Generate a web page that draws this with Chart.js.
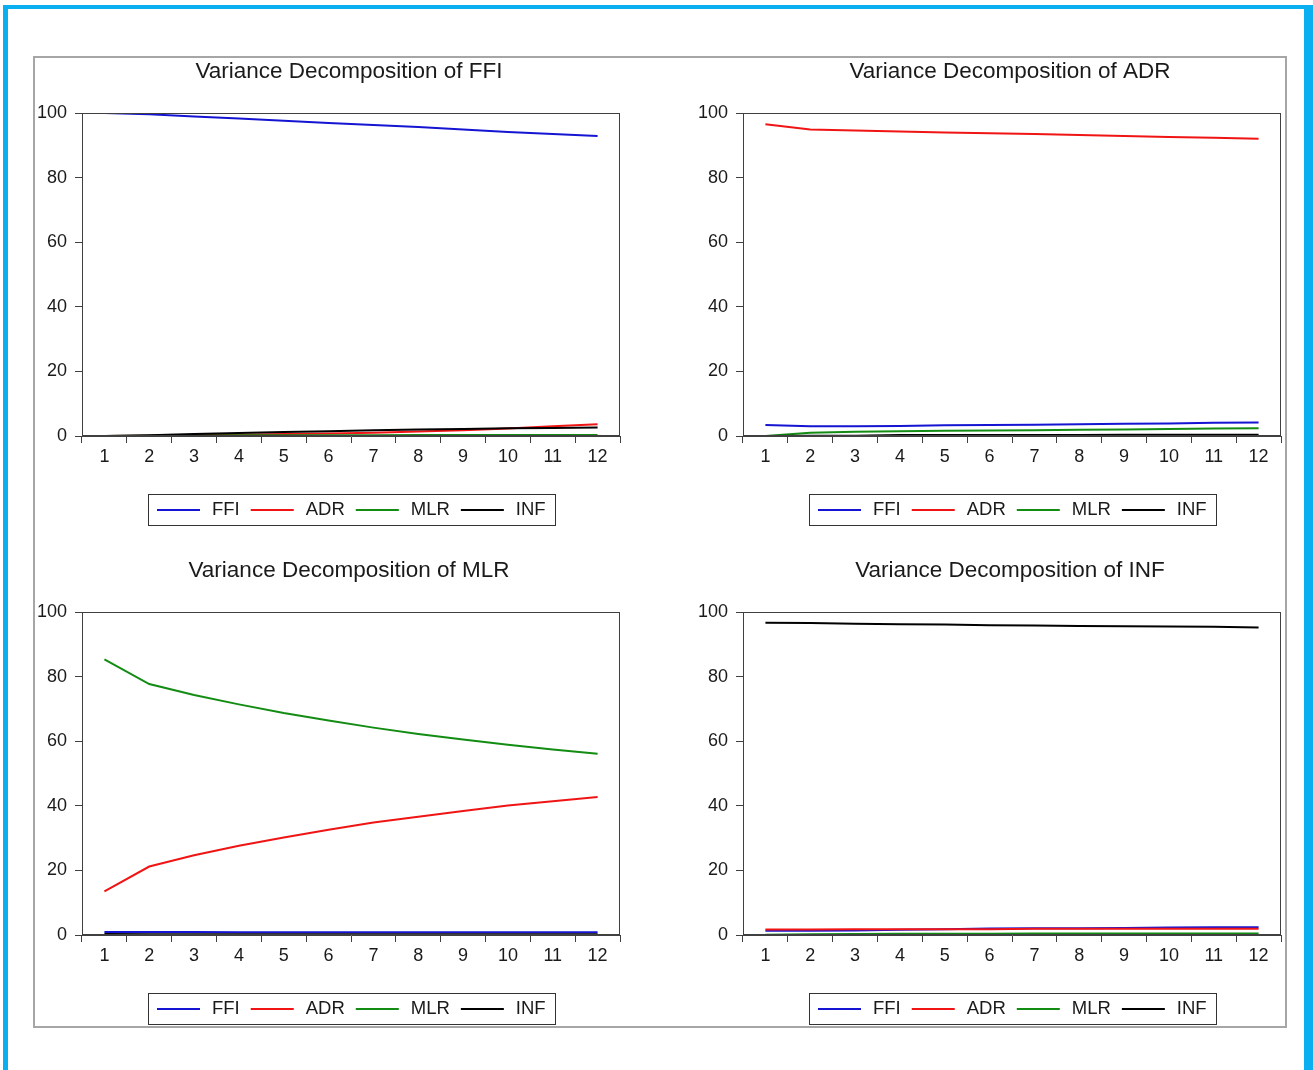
<!DOCTYPE html>
<html><head><meta charset="utf-8">
<script src="https://cdn.jsdelivr.net/npm/chart.js@4/dist/chart.umd.min.js"></script>
<style>
html,body{margin:0;padding:0;background:#fff;width:1313px;height:1070px;overflow:hidden;position:relative;}
#blue{position:absolute;left:3px;top:5px;width:1310px;height:1100px;box-sizing:border-box;border-top:4px solid #0aaff0;border-left:5px solid #0aaff0;border-right:9px solid #0aaff0;}
#frame{position:absolute;left:33px;top:56px;width:1254px;height:972px;box-sizing:border-box;border:2px solid #a6a6a6;}
canvas{position:absolute;}
</style></head><body>
<div id="blue"></div><div id="frame"></div>
<canvas id="c1" width="604" height="480" style="left:36px;top:58px"></canvas>
<canvas id="c2" width="604" height="480" style="left:697px;top:58px"></canvas>
<canvas id="c3" width="604" height="480" style="left:36px;top:557px"></canvas>
<canvas id="c4" width="604" height="480" style="left:697px;top:557px"></canvas>
<script>
// ---- data ----
const periods = ['1','2','3','4','5','6','7','8','9','10','11','12'];
const seriesNames = ['FFI','ADR','MLR','INF'];
const yTicks = [0,20,40,60,80,100];
const titles = ['Variance Decomposition of FFI','Variance Decomposition of ADR','Variance Decomposition of MLR','Variance Decomposition of INF'];

// Variance Decomposition of FFI
const vdFFI_FFI = [100, 99.6, 98.9, 98.3, 97.6, 96.9, 96.3, 95.7, 94.9, 94.1, 93.5, 92.9];
const vdFFI_ADR = [0, 0.1, 0.3, 0.4, 0.6, 0.8, 1.0, 1.4, 1.8, 2.3, 3.0, 3.6];
const vdFFI_MLR = [0, 0.05, 0.15, 0.2, 0.2, 0.25, 0.25, 0.3, 0.3, 0.3, 0.3, 0.3];
const vdFFI_INF = [0, 0.2, 0.6, 0.9, 1.2, 1.5, 1.8, 2.0, 2.2, 2.4, 2.5, 2.6];

// Variance Decomposition of ADR
const vdADR_FFI = [3.4, 3.0, 3.0, 3.1, 3.3, 3.4, 3.5, 3.6, 3.8, 3.9, 4.1, 4.2];
const vdADR_ADR = [96.5, 94.9, 94.6, 94.3, 94.0, 93.7, 93.5, 93.2, 92.9, 92.6, 92.3, 92.0];
const vdADR_MLR = [0, 1.0, 1.3, 1.5, 1.6, 1.7, 1.8, 1.9, 2.0, 2.2, 2.3, 2.4];
const vdADR_INF = [0, 0.05, 0.1, 0.3, 0.3, 0.3, 0.3, 0.3, 0.35, 0.35, 0.4, 0.4];

// Variance Decomposition of MLR
const vdMLR_FFI = [0.9, 0.9, 0.9, 0.85, 0.85, 0.85, 0.85, 0.85, 0.85, 0.85, 0.85, 0.85];
const vdMLR_ADR = [13.5, 21.2, 24.7, 27.6, 30.2, 32.6, 34.8, 36.6, 38.4, 40.1, 41.4, 42.7];
const vdMLR_MLR = [85.3, 77.7, 74.3, 71.4, 68.7, 66.4, 64.2, 62.2, 60.5, 58.9, 57.4, 56.1];
const vdMLR_INF = [0.3, 0.2, 0.2, 0.2, 0.2, 0.2, 0.2, 0.2, 0.2, 0.2, 0.2, 0.2];

// Variance Decomposition of INF
const vdINF_FFI = [1.3, 1.3, 1.4, 1.6, 1.8, 2.0, 2.1, 2.1, 2.2, 2.3, 2.4, 2.4];
const vdINF_ADR = [1.7, 1.7, 1.8, 1.8, 1.8, 1.8, 1.9, 1.9, 1.9, 1.9, 1.9, 1.9];
const vdINF_MLR = [0.1, 0.2, 0.3, 0.4, 0.4, 0.4, 0.45, 0.45, 0.5, 0.5, 0.5, 0.5];
const vdINF_INF = [96.7, 96.6, 96.4, 96.2, 96.1, 95.9, 95.8, 95.7, 95.6, 95.5, 95.4, 95.2];

// ---- styling ----
const COLORS = ['#1414d2', '#f01414', '#128c12', '#000000'];
const AXIS = '#404040';
const TEXT = '#1a1a1a';
const FONT = '"Liberation Sans", Arial, sans-serif';

const framePlugin = {
  id: 'frameTitleLegend',
  afterDraw(chart, args, opts) {
    const ctx = chart.ctx, a = chart.chartArea;
    ctx.save();
    // plot box
    ctx.strokeStyle = AXIS; ctx.lineWidth = 1;
    ctx.strokeRect(Math.round(a.left) + 0.5, Math.round(a.top) + 0.5,
                   Math.round(a.right - a.left) - 1, Math.round(a.bottom - a.top) - 1);
    // title
    ctx.fillStyle = TEXT;
    ctx.font = '22.5px ' + FONT;
    ctx.textAlign = 'center'; ctx.textBaseline = 'middle';
    ctx.fillText(opts.title, (a.left + a.right) / 2 - 2, a.top - 41);
    // legend
    ctx.font = '18.5px ' + FONT;
    const ds = chart.data.datasets;
    const lineLen = 43, gap1 = 12, gap2 = 11, pad = 9;
    const widths = ds.map(d => ctx.measureText(d.label).width);
    const total = pad * 2 + ds.length * (lineLen + gap1) + widths.reduce((s, w) => s + w, 0) + (ds.length - 1) * gap2;
    const x0 = Math.round((a.left + a.right) / 2 - total / 2);
    const y0 = Math.round(a.bottom + 58);
    ctx.strokeStyle = '#333'; ctx.lineWidth = 1;
    ctx.strokeRect(x0 + 0.5, y0 + 0.5, Math.round(total), 31);
    let x = x0 + pad; const ym = y0 + 16;
    ds.forEach((d, i) => {
      ctx.strokeStyle = d.borderColor; ctx.lineWidth = 2;
      ctx.beginPath(); ctx.moveTo(x, ym); ctx.lineTo(x + lineLen, ym); ctx.stroke();
      x += lineLen + gap1;
      ctx.fillStyle = TEXT; ctx.textAlign = 'left'; ctx.textBaseline = 'middle';
      ctx.fillText(d.label, x, ym);
      x += widths[i] + gap2;
    });
    ctx.restore();
  }
};

function makeChart(id, title, seriesArrays) {
  const datasets = seriesArrays.map((arr, i) => ({
    label: seriesNames[i],
    data: arr,
    borderColor: COLORS[i],
    backgroundColor: COLORS[i],
    borderWidth: 2,
    pointRadius: 0,
    tension: 0,
    fill: false,
    order: seriesArrays.length - i
  }));
  new Chart(document.getElementById(id), {
    type: 'line',
    data: { labels: periods, datasets },
    plugins: [framePlugin],
    options: {
      responsive: false,
      animation: false,
      events: [],
      layout: { padding: { top: 55, right: 20, bottom: 0, left: 0 } },
      plugins: {
        legend: { display: false },
        title: { display: false },
        tooltip: { enabled: false },
        frameTitleLegend: { title }
      },
      scales: {
        x: {
          type: 'category',
          offset: true,
          grid: { offset: true, drawOnChartArea: false, drawTicks: true, tickLength: 7, color: AXIS },
          border: { display: true, color: AXIS, width: 1 },
          ticks: { color: TEXT, font: { family: FONT, size: 18 }, padding: 3, autoSkip: false, maxRotation: 0 },
          afterFit: s => { s.height = 102; }
        },
        y: {
          min: 0, max: 100,
          afterBuildTicks: s => { s.ticks = yTicks.map(v => ({ value: v })); },
          grid: { drawOnChartArea: false, drawTicks: true, tickLength: 7, color: AXIS },
          border: { display: true, color: AXIS, width: 1 },
          ticks: { color: TEXT, font: { family: FONT, size: 18 }, padding: 8 },
          afterFit: s => { s.width = 46; }
        }
      }
    }
  });
}

makeChart('c1', titles[0], [vdFFI_FFI, vdFFI_ADR, vdFFI_MLR, vdFFI_INF]);
makeChart('c2', titles[1], [vdADR_FFI, vdADR_ADR, vdADR_MLR, vdADR_INF]);
makeChart('c3', titles[2], [vdMLR_FFI, vdMLR_ADR, vdMLR_MLR, vdMLR_INF]);
makeChart('c4', titles[3], [vdINF_FFI, vdINF_ADR, vdINF_MLR, vdINF_INF]);
</script>
</body></html>
